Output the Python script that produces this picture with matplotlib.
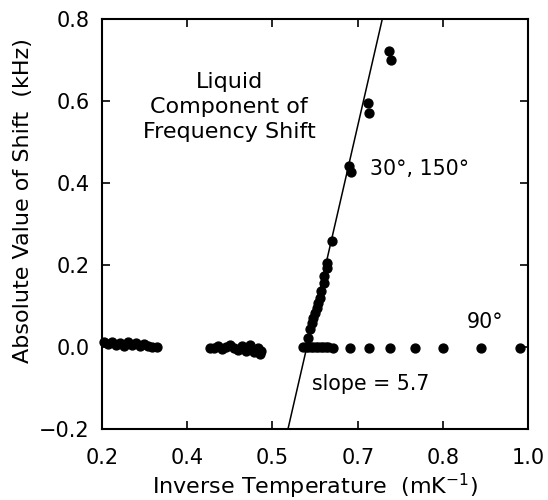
import numpy as np
import matplotlib
matplotlib.use("Agg")
import matplotlib.pyplot as plt

# x tick positions are evenly spaced, labels as printed on the original
tick_pos = [0.2, 0.36, 0.52, 0.68, 0.84, 1.0]
tick_lab = ["0.2", "0.4", "0.5", "0.7", "0.8", "1.0"]

# low temperature cluster (flat, near zero)
left_x = [0.204, 0.211, 0.219, 0.226, 0.234, 0.241, 0.249, 0.256, 0.264, 0.271,
          0.279, 0.286, 0.294, 0.303]
left_y = [0.012, 0.008, 0.013, 0.005, 0.010, 0.003, 0.012, 0.006, 0.010, 0.003,
          0.008, 0.002, 0.001, 0.000]

mid_x = [0.403, 0.410, 0.418, 0.425, 0.433, 0.440, 0.448, 0.455, 0.463, 0.470,
         0.478, 0.485, 0.493, 0.497, 0.499]
mid_y = [-0.003, -0.002, 0.003, -0.005, 0.000, 0.005, -0.003, -0.008, 0.002, -0.010,
         0.005, -0.012, -0.003, -0.018, -0.010]

# 30 deg / 150 deg branch
ang30_x = [0.586, 0.591, 0.594, 0.596, 0.600, 0.603, 0.606, 0.609, 0.611, 0.616,
           0.617, 0.622, 0.623, 0.631, 0.664, 0.667, 0.700, 0.702, 0.739, 0.743]
ang30_y = [0.022, 0.043, 0.059, 0.071, 0.083, 0.096, 0.108, 0.120, 0.136, 0.157,
           0.173, 0.193, 0.206, 0.258, 0.441, 0.426, 0.594, 0.571, 0.723, 0.701]

# 90 deg branch
ang90_x = [0.577, 0.582, 0.587, 0.592, 0.596, 0.601, 0.606, 0.611, 0.615, 0.620,
           0.624, 0.633, 0.666, 0.702, 0.741, 0.787, 0.840, 0.912, 0.984]
ang90_y = [0.0, -0.001, 0.0, -0.001, 0.0, 0.0, -0.001, 0.0, 0.0, -0.001,
           0.0, -0.003, -0.003, -0.003, -0.003, -0.003, -0.003, -0.003, -0.003]

# fitted line
slope = 5.65
x0 = 0.5845

fig = plt.figure(figsize=(5.48, 5.0), dpi=100)
ax = fig.add_axes([0.186, 0.142, 0.778, 0.820])

ms = 6.4
for xs, ys in [(left_x, left_y), (mid_x, mid_y), (ang30_x, ang30_y), (ang90_x, ang90_y)]:
    ax.plot(xs, ys, 'o', color='black', markersize=ms, clip_on=False)

lx = np.array([0.5, 0.8])
ax.plot(lx, slope * (lx - x0), color='black', linewidth=1.1)

ax.set_xlim(0.2, 1.0)
ax.set_ylim(-0.2, 0.8)
ax.set_xticks(tick_pos)
ax.set_xticklabels(tick_lab)
ax.set_yticks([-0.2, 0.0, 0.2, 0.4, 0.6, 0.8])
ax.set_yticklabels(["\u22120.2", "0.0", "0.2", "0.4", "0.6", "0.8"])
ax.tick_params(direction='in', length=6, width=1.2, top=True, right=True,
               labelsize=15)
ax.tick_params(axis='x', pad=14)
ax.tick_params(axis='y', pad=9)
for s in ax.spines.values():
    s.set_linewidth(1.5)

ax.set_xlabel("Inverse Temperature  (mK$^{-1}$)", fontsize=16)
ax.set_ylabel("Absolute Value of Shift  (kHz)", fontsize=16)
ax.xaxis.set_label_coords(0.5, -0.104)
ax.yaxis.set_label_coords(-0.162, 0.558)

ax.text(0.4385, 0.586, "Liquid\nComponent of\nFrequency Shift", ha='center',
        va='center', fontsize=16, linespacing=1.3)
ax.text(0.703, 0.433, "30\u00b0, 150\u00b0", ha='left', va='center', fontsize=14.8)
ax.text(0.885, 0.062, "90\u00b0", ha='left', va='center', fontsize=14.8)
ax.text(0.594, -0.091, "slope = 5.7", ha='left', va='center', fontsize=14.8)

fig.savefig("out.png", dpi=100)
